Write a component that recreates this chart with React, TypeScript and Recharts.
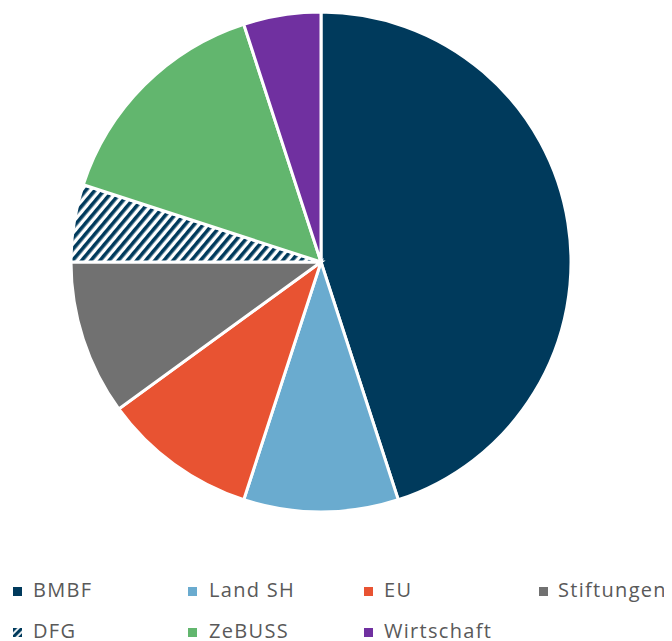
import React from "react";
import { PieChart, Pie, Cell, Legend } from "recharts";

const categories = ["BMBF", "Land SH", "EU", "Stiftungen", "DFG", "ZeBUSS", "Wirtschaft"];
const values = [45, 10, 10, 10, 5, 15, 5];
const colors = ["#003A5C", "#6AABCF", "#E85332", "#717171", "url(#dfgHatch)", "#62B66E", "#7030A0"];
const legendColors = ["#003A5C", "#6AABCF", "#E85332", "#717171", "#003A5C", "#62B66E", "#7030A0"];

const data = categories.map((name, i) => ({ name, value: values[i] }));

const squareX = [5, 180, 356, 531];
const textX = [25, 201, 376, 550];
const rowTop = [0, 41];

const renderLegend = () => (
  <div style={{ position: "relative", width: 664, height: 66, fontFamily: "'Open Sans', sans-serif", fontSize: 20, lineHeight: "20px", color: "#595959", letterSpacing: 1.3 }}>
    {categories.map((name, i) => {
      const row = i < 4 ? 0 : 1;
      const col = i < 4 ? i : i - 4;
      return (
        <React.Fragment key={name}>
          {name === "DFG" ? (
            <svg width={9} height={9} style={{ position: "absolute", left: squareX[col], top: rowTop[row] + 6.5 }}>
              <rect x={0} y={0} width={9} height={9} fill="url(#dfgHatchSmall)" />
            </svg>
          ) : (
            <span style={{ position: "absolute", left: squareX[col], top: rowTop[row] + 6.5, width: 9, height: 9, background: legendColors[i] }} />
          )}
          <span style={{ position: "absolute", left: textX[col], top: rowTop[row], whiteSpace: "nowrap" }}>{name}</span>
        </React.Fragment>
      );
    })}
  </div>
);

export default function App() {
  return (
    <PieChart width={664} height={633} margin={{ top: 0, right: 0, bottom: 0, left: 0 }}>
      <defs>
        <pattern id="dfgHatch" patternUnits="userSpaceOnUse" width="7" height="7" patternTransform="rotate(40)">
          <rect x="0" y="0" width="7" height="7" fill="#ffffff" />
          <rect x="0" y="0" width="3.6" height="7" fill="#003A5C" />
        </pattern>
        <pattern id="dfgHatchSmall" patternUnits="userSpaceOnUse" width="5" height="5" patternTransform="rotate(45)">
          <rect x="0" y="0" width="5" height="5" fill="#ffffff" />
          <rect x="0" y="0" width="3.2" height="5" fill="#003A5C" />
        </pattern>
      </defs>
      <Pie
        data={data}
        dataKey="value"
        nameKey="name"
        cx={313}
        cy={254}
        outerRadius={250}
        startAngle={90}
        endAngle={-270}
        stroke="#ffffff"
        strokeWidth={3}
        isAnimationActive={false}
        label={false}
        labelLine={false}
      >
        {data.map((d, i) => (
          <Cell key={d.name} fill={colors[i]} />
        ))}
      </Pie>
      <Legend content={renderLegend} wrapperStyle={{ position: "absolute", left: 0, top: 572, width: 664 }} />
    </PieChart>
  );
}
